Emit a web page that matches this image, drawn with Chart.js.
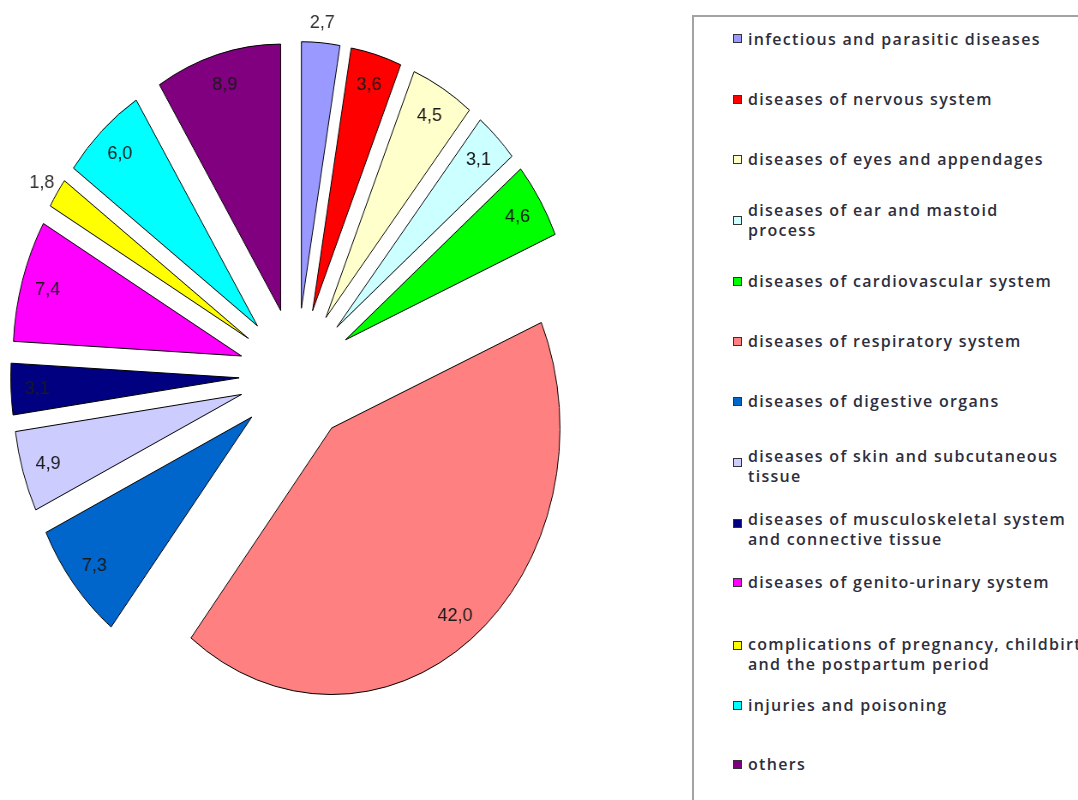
<!DOCTYPE html>
<html><head><meta charset="utf-8">
<script src="https://cdn.jsdelivr.net/npm/chart.js@4.4.1/dist/chart.umd.min.js"></script>
<style>
html,body{margin:0;padding:0;background:#fff;width:1078px;height:800px;overflow:hidden;position:relative;}
#pieWrap{position:absolute;left:0;top:0;width:700px;height:800px;transform:scaleX(0.857);transform-origin:0 0;}
#legendBox{position:absolute;left:692px;top:15px;width:420px;height:820px;border:2px solid #a3a3a3;box-sizing:border-box;}
.mk{position:absolute;width:7px;height:7px;border:1px solid #333;}
.tx{position:absolute;font-family:"Open Sans",sans-serif;font-size:16px;font-weight:600;color:#2e2e3c;white-space:pre;line-height:20px;letter-spacing:1.3px;}
</style></head><body>
<div id="pieWrap"><canvas id="c" width="700" height="800"></canvas></div>
<div id="legendBox"></div>
<script>
const categories = [
  "infectious and parasitic diseases",
  "diseases of nervous system",
  "diseases of eyes and appendages",
  "diseases of ear and mastoid\nprocess",
  "diseases of cardiovascular system",
  "diseases of respiratory system",
  "diseases of digestive organs",
  "diseases of skin and subcutaneous\ntissue",
  "diseases of musculoskeletal system\nand connective tissue",
  "diseases of genito-urinary system",
  "complications of pregnancy, childbirth\nand the postpartum period",
  "injuries and poisoning",
  "others"
];
const values = [2.7, 3.6, 4.5, 3.1, 4.6, 42.0, 7.3, 4.9, 3.1, 7.4, 1.8, 6.0, 8.9];
const colors = ["#9999FF","#FF0000","#FFFFCC","#CCFFFF","#00FF00","#FF8080","#0066CC","#CCCCFF","#000080","#FF00FF","#FFFF00","#00FFFF","#800080"];

// layout of the HTML legend (page pixels)
const legendTextY = [39, 99, 159, 210, 281, 341, 401, 456, 519, 582, 644, 705, 764];
const legendMarkY = [38, 99, 159, 220, 281, 341, 401, 462, 523, 582, 645, 705, 764];

const SX = 0.857, EXPLODE = 67, R = 266.5;

categories.forEach((name, i) => {
  const mk = document.createElement('div');
  mk.className = 'mk';
  mk.style.left = '733px';
  mk.style.top = (legendMarkY[i] - 4.5) + 'px';
  mk.style.background = colors[i];
  document.body.appendChild(mk);
  const tx = document.createElement('div');
  tx.className = 'tx';
  tx.style.left = '748px';
  tx.style.top = (legendTextY[i] - 10) + 'px';
  tx.textContent = name;
  document.body.appendChild(tx);
});

const explodePlugin = {
  id: 'explode',
  beforeDatasetDraw(chart, args) {
    const ctx = chart.ctx;
    args.meta.data.forEach(arc => {
      const p = arc.getProps(['startAngle', 'endAngle'], true);
      const mid = (p.startAngle + p.endAngle) / 2;
      ctx.save();
      ctx.translate(Math.cos(mid) * EXPLODE, Math.sin(mid) * EXPLODE);
      arc.draw(ctx);
      ctx.restore();
    });
    return false;
  },
  afterDraw(chart) {
    const ctx = chart.ctx;
    const meta = chart.getDatasetMeta(0);
    ctx.save();
    ctx.font = '18px "Liberation Sans", Arial, sans-serif';
    ctx.textAlign = 'center';
    ctx.textBaseline = 'middle';
    meta.data.forEach((arc, i) => {
      const p = arc.getProps(['x', 'y', 'startAngle', 'endAngle', 'outerRadius'], true);
      const mid = (p.startAngle + p.endAngle) / 2;
      const v = values[i];
      const r = v < 3 ? p.outerRadius + 21 : p.outerRadius * 0.885;
      const x = p.x + Math.cos(mid) * (EXPLODE + r);
      const y = p.y + Math.sin(mid) * (EXPLODE + r);
      ctx.save();
      ctx.translate(x, y);
      ctx.scale(1 / SX, 1);
      ctx.fillStyle = v < 3 ? '#333333' : '#1a1a1a';
      ctx.fillText(v.toFixed(1).replace('.', ','), 0, 1);
      ctx.restore();
    });
    ctx.restore();
  }
};

new Chart(document.getElementById('c'), {
  type: 'pie',
  data: {
    labels: categories,
    datasets: [{
      data: values,
      backgroundColor: colors,
      borderColor: '#000000',
      borderWidth: 1,
      hoverOffset: 0
    }]
  },
  options: {
    responsive: false,
    animation: false,
    radius: R,
    events: [],
    layout: { padding: { left: 46, top: 75, right: 54, bottom: 125 } },
    plugins: { legend: { display: false }, tooltip: { enabled: false } }
  },
  plugins: [explodePlugin]
});
</script>
</body></html>
